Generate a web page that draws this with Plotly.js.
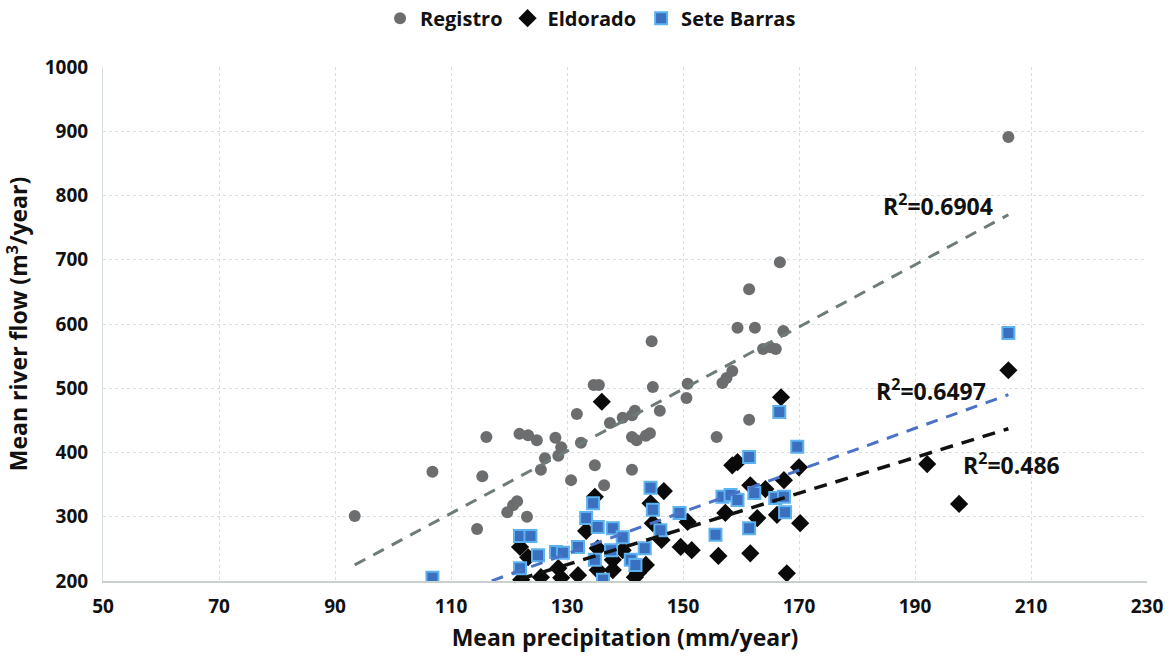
<!DOCTYPE html>
<html>
<head>
<meta charset="utf-8">
<script src="https://cdn.plot.ly/plotly-3.0.1.min.js"></script>
<style>html,body{margin:0;padding:0;background:#fff;}#chart{width:1173px;height:656px;}</style>
</head>
<body>
<div id="chart"></div>
<script>
// Registro (gray circles)
const regX = [93.4,106.8,116.1,115.4,114.5,121.8,123.3,124.8,119.7,120.7,121.4,123.1,125.5,126.2,128.0,128.5,129.0,130.7,131.7,132.4,134.6,135.5,134.8,136.4,137.4,139.6,141.2,141.7,141.2,141.2,142.0,143.6,144.3,144.6,144.8,146.0,150.8,150.6,155.8,156.8,157.5,158.5,159.4,161.4,161.4,162.4,163.8,165.0,166.0,166.7,167.3,206.1];
const regY = [301,370,424,363,281,429,427,419,307,318,324,300,373,391,423,395,408,357,460,415,505,505,380,349,446,454,458,465,373,424,419,426,430,573,502,465,507,485,424,508,516,527,594,654,451,594,561,564,561,696,589,891];
// Eldorado (black diamonds)
const eldX = [136.0,166.9,206.1,192.1,197.6,146.7,144.4,144.8,146.3,149.6,151.5,150.8,156.1,157.3,158.5,159.4,161.6,161.6,162.8,164.2,166.2,167.4,170.0,170.2,167.9,134.8,133.3,121.9,123.3,122.1,125.5,128.5,129.0,131.9,135.3,135.3,137.9,137.9,139.6,141.7,143.6,142.2];
const eldY = [479,486,528,382,320,340,321,290,264,253,248,292,239,306,380,385,349,243,298,343,303,357,377,290,212,331,278,253,237,202,206,220,205,209,251,217,233,217,248,206,225,212];
// Sete Barras (blue squares)
const sbX = [106.8,121.9,123.7,125.0,128.1,129.3,131.9,121.9,133.3,134.5,135.3,137.9,139.6,134.8,137.6,136.2,141.0,141.8,143.4,144.4,144.8,146.1,149.4,155.6,156.8,158.2,159.4,161.4,161.4,162.3,165.9,166.6,167.4,167.6,169.7,206.1];
const sbY = [205,270,270,240,245,244,253,220,298,321,284,282,268,233,248,202,233,225,251,345,311,279,306,272,331,334,326,393,282,337,329,463,331,307,409,586];
// Linear trend lines (endpoints)
const regTrendX = [93.4, 206.1], regTrendY = [225, 770];
const sbTrendX = [106.8, 206.1], sbTrendY = [167, 490];
const eldTrendX = [121.9, 206.1], eldTrendY = [203, 437];
// R² labels
const r2Text = ['R<sup>2</sup>=0.6904', 'R<sup>2</sup>=0.6497', 'R<sup>2</sup>=0.486'];
const r2X = [194.0, 192.8, 206.7];
const r2Y = [785, 497, 382];

const F = 'Open Sans, DejaVu Sans, sans-serif';
const traces = [
  {x: regX, y: regY, type: 'scatter', mode: 'markers', name: 'Registro',
   marker: {symbol: 'circle', size: 12, color: '#6b6d6f'}},
  {x: eldX, y: eldY, type: 'scatter', mode: 'markers', name: 'Eldorado',
   marker: {symbol: 'diamond', size: 14, color: '#0a0a0a'}},
  {x: sbX, y: sbY, type: 'scatter', mode: 'markers', name: 'Sete Barras',
   marker: {symbol: 'square', size: 12, color: '#3b6fbf', line: {color: '#5db3ef', width: 2}}},
  {x: regTrendX, y: regTrendY, type: 'scatter', mode: 'lines', showlegend: false, hoverinfo: 'skip',
   line: {color: '#6e7b79', width: 3, dash: '12px,9px'}},
  {x: sbTrendX, y: sbTrendY, type: 'scatter', mode: 'lines', showlegend: false, hoverinfo: 'skip',
   line: {color: '#4a72c6', width: 3, dash: '12px,9px'}},
  {x: eldTrendX, y: eldTrendY, type: 'scatter', mode: 'lines', showlegend: false, hoverinfo: 'skip',
   line: {color: '#111111', width: 3.5, dash: '13px,9px'}}
];

const annotations = r2Text.map((t, i) => ({
  x: r2X[i], y: r2Y[i], xref: 'x', yref: 'y', text: t, showarrow: false,
  font: {family: F, size: 23, color: '#111', weight: 700}
}));

const layout = {
  width: 1173, height: 656,
  margin: {l: 103, r: 26, t: 67, b: 75, autoexpand: false},
  paper_bgcolor: '#ffffff', plot_bgcolor: '#ffffff',
  showlegend: true,
  legend: {orientation: 'h', x: 0.467, xanchor: 'center', y: 1.095, yanchor: 'middle',
    font: {family: F, size: 20, color: '#111', weight: 700}, itemwidth: 30, tracegroupgap: 0},
  xaxis: {range: [50, 230], tickvals: [50,70,90,110,130,150,170,190,210,230],
    showgrid: true, gridcolor: '#d6dfdd', griddash: 'dot', gridwidth: 1,
    zeroline: false, showline: true, linecolor: '#c9d0ce', linewidth: 2, mirror: false,
    ticks: 'outside', ticklen: 7, tickcolor: 'rgba(0,0,0,0)',
    tickfont: {family: F, size: 19, color: '#111', weight: 700},
    title: {text: 'Mean precipitation (mm/year)', standoff: 12,
      font: {family: F, size: 23, color: '#111', weight: 700}}},
  yaxis: {range: [200, 1000], tickvals: [200,300,400,500,600,700,800,900,1000],
    showgrid: true, gridcolor: '#d6dfdd', griddash: 'dot', gridwidth: 1,
    zeroline: false, showline: true, linecolor: '#d6dfdd', linewidth: 1,
    ticks: 'outside', ticklen: 10, tickcolor: 'rgba(0,0,0,0)',
    tickfont: {family: F, size: 19, color: '#111', weight: 700},
    title: {text: 'Mean river flow (m<sup>3</sup>/year)', standoff: 10,
      font: {family: F, size: 23, color: '#111', weight: 700}}},
  annotations: annotations
};

Plotly.newPlot('chart', traces, layout, {displayModeBar: false, staticPlot: true});
</script>
</body>
</html>
